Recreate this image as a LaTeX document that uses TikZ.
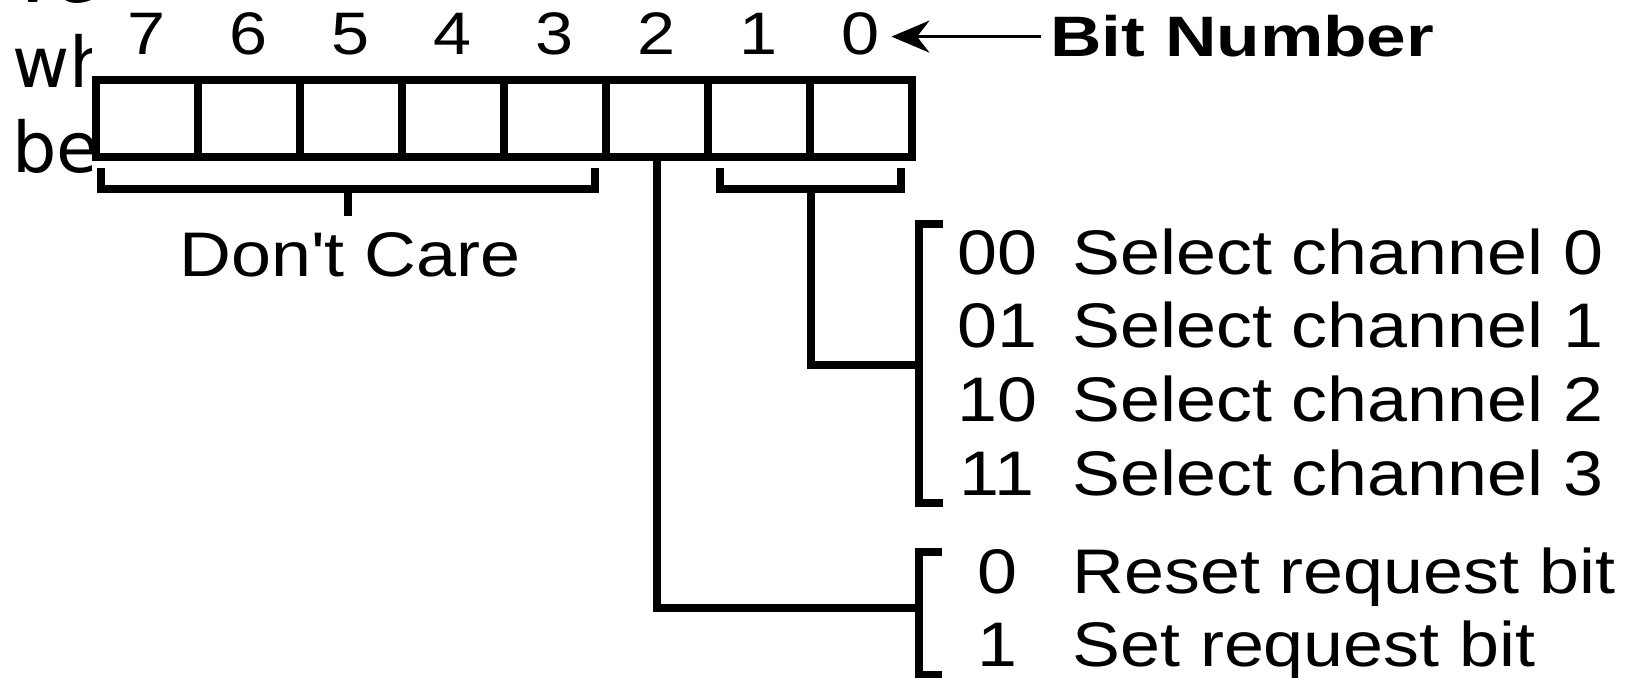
\documentclass[tikz,border=0pt]{standalone}
\usepackage{fontspec}
\usetikzlibrary{arrows.meta}
\setmainfont{Liberation Sans}
\newfontfamily\labfont[FakeStretch=1.14]{Liberation Sans}
\newfontfamily\headfont[FakeStretch=1.25]{Liberation Sans}
\newfontfamily\pagefont{DejaVu Sans}

\begin{document}
\begin{tikzpicture}[x=0.5pt,y=-0.5pt,
  wire/.style={line width=3.75pt, line cap=butt, line join=miter},
  cell/.style={draw, line width=3.75pt, fill=white, minimum width=51pt,
    minimum height=38.5pt, inner sep=0pt, outer sep=0pt},
  bitnum/.style={font=\labfont\fontsize{30}{36}\selectfont, inner sep=0pt, anchor=base},
  desc/.style={font=\labfont\fontsize{31.5}{38}\selectfont, inner sep=0pt, anchor=base west},
  code/.style={font=\labfont\fontsize{31.5}{38}\selectfont, inner sep=0pt, anchor=base},
  pagetext/.style={font=\pagefont\fontsize{35}{42}\selectfont, inner sep=0pt, anchor=base west},
]
\useasboundingbox (0,0) rectangle (1637,678);
\clip (0,0) rectangle (1637,678);
\fill[white] (0,0) rectangle (1637,678);

% running text of the page, partly hidden by the figure
\node[pagetext] (pv) at (12,3) {ve};
\node[pagetext] (pw) at (12,88) {wh};
\node[pagetext] (pb) at (12,173) {be};
\fill[white] (92,0) rectangle (1637,678);

% the eight register cells, bit 7 on the left
\foreach \b in {0,...,7} {
  \node[cell] (c\b) at ({147+(7-\b)*102},118.5) {};
  \node[bitnum] (n\b) at ({147+(7-\b)*102},55) {\b};
}

% bit number caption and its arrow
\node[font=\headfont\bfseries\fontsize{28.5}{34}\selectfont, inner sep=0pt,
  anchor=base west] (bn) at (1050,57) {Bit Number};
\draw[line width=1.5pt, -{Stealth[length=19pt,width=16pt]},
  shorten <=4.5pt, shorten >=5.5pt] (bn.west) -- (n0.east |- bn.west);

% bits 7..3: don't care
\coordinate (dl) at (101,168);
\coordinate (dr) at (595,168);
\coordinate (dm) at (348,189);
\node[code] (dc) at (350,277) {Don't Care};
\draw[wire] (dl) -- (dl |- dm) -- (dr |- dm) -- (dr);
\draw[wire] (dm) -- ++(0,27);

% bits 1..0: channel select
\coordinate (sl) at (720,168);
\coordinate (sr) at (901,168);
\coordinate (sm) at (811,189);
\coordinate (st) at (919,224);
\coordinate (sb) at (919,503);
\coordinate (sj) at (919,365);
\draw[wire] (sl) -- (sl |- sm) -- (sr |- sm) -- (sr);
\draw[wire] (sm) -- (sm |- sj) -- (sj);
\draw[wire] ([xshift=12pt]st) -- (st) -- (sb) -- ([xshift=12pt]sb);

\node[code] (k0) at (997,275) {00};
\node[code] (k1) at (997,348) {01};
\node[code] (k2) at (997,422) {10};
\node[code] (k3) at (997,495) {11};
\node[desc] (d0) at (1072,275) {Select channel 0};
\node[desc] (d1) at (1072,348) {Select channel 1};
\node[desc] (d2) at (1072,422) {Select channel 2};
\node[desc] (d3) at (1072,495) {Select channel 3};

% bit 2: request bit
\coordinate (rt) at (919,552);
\coordinate (rb) at (919,675);
\coordinate (rj) at (919,608);
\draw[wire] (c2.south) -- (c2.south |- rj) -- (rj);
\draw[wire] ([xshift=11.5pt]rt) -- (rt) -- (rb) -- ([xshift=11.5pt]rb);

\node[code] (k4) at (997,593) {0};
\node[code] (k5) at (997,666) {1};
\node[desc] (d4) at (1072,593) {Reset request bit};
\node[desc] (d5) at (1072,666) {Set request bit};
\end{tikzpicture}
\end{document}
